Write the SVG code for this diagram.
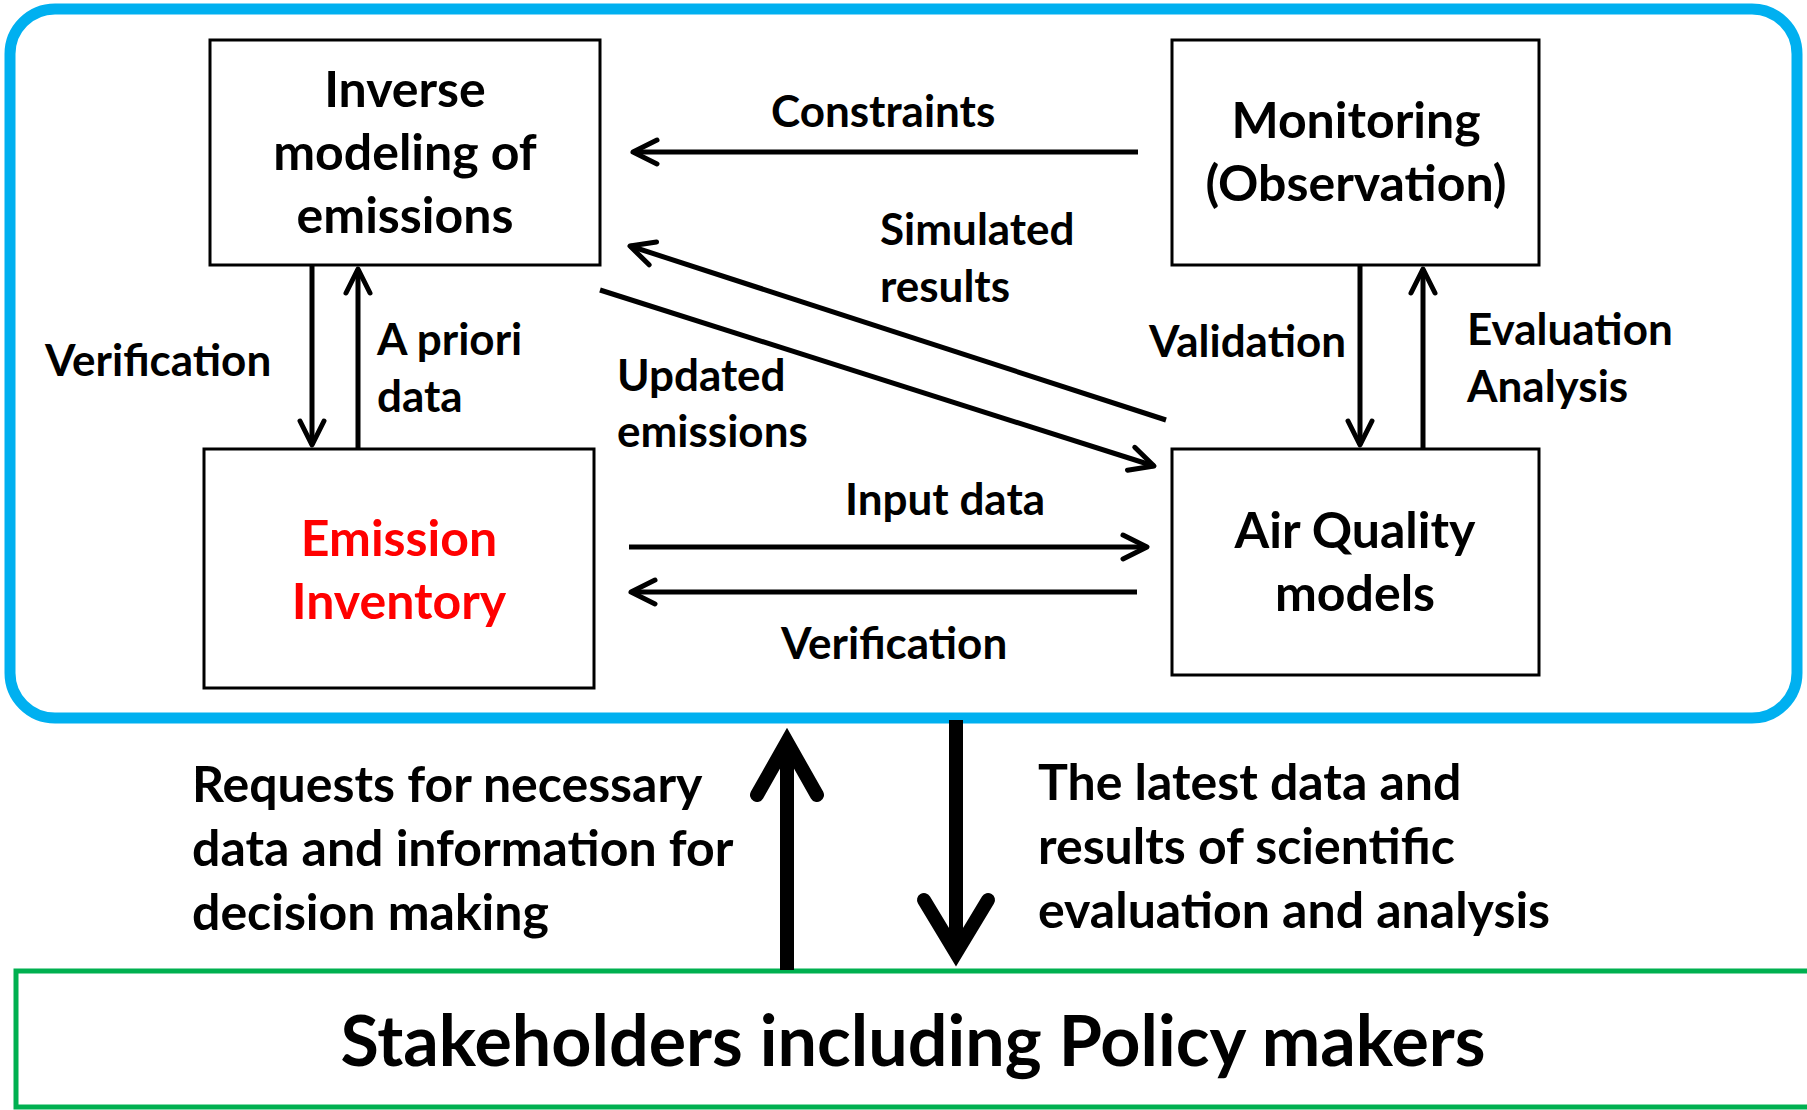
<svg xmlns="http://www.w3.org/2000/svg" width="1807" height="1110" viewBox="0 0 1807 1110">
<style>
  .box { fill: #FFFFFF; stroke: #000000; stroke-width: 3; }
  .t { font-family: Lato, "Open Sans", "Liberation Sans", sans-serif; font-weight: 700; fill: #000000; }
  .node { font-size: 50px; text-anchor: middle; }
  .red { fill: #FF0000; }
  .lab { font-size: 44px; }
  .big { font-size: 50px; }
  .con { fill: none; stroke: #000000; stroke-width: 5; }
  .thick { fill: none; stroke: #000000; stroke-width: 14; }
</style>
<defs>
  <marker id="arr" viewBox="-30 -16 36 32" markerWidth="36" markerHeight="32" refX="0" refY="0" orient="auto" markerUnits="userSpaceOnUse">
    <path d="M-24,-12 L0,0 L-24,12" fill="none" stroke="#000000" stroke-width="5" stroke-linecap="round" stroke-linejoin="round"/>
  </marker>
</defs>
<rect x="0" y="0" width="1807" height="1110" fill="#FFFFFF"/>
<g id="frame">
  <rect x="10" y="9" width="1787" height="709" rx="45" ry="45" fill="none" stroke="#00B0F0" stroke-width="11"/>
</g>
<g id="inverse">
  <rect class="box" x="210" y="40" width="390" height="225"/>
  <text class="t node" x="405" y="107">Inverse</text>
  <text class="t node" x="405" y="170">modeling of</text>
  <text class="t node" x="405" y="233">emissions</text>
</g>
<g id="monitoring">
  <rect class="box" x="1172" y="40" width="367" height="225"/>
  <text class="t node" x="1356" y="138">Monitoring</text>
  <text class="t node" x="1356" y="201">(Observation)</text>
</g>
<g id="emission">
  <rect class="box" x="204" y="449" width="390" height="239"/>
  <text class="t node red" x="399" y="556">Emission</text>
  <text class="t node red" x="399" y="619">Inventory</text>
</g>
<g id="airquality">
  <rect class="box" x="1172" y="449" width="367" height="226"/>
  <text class="t node" x="1355" y="548">Air Quality</text>
  <text class="t node" x="1355" y="611">models</text>
</g>
<g id="stakeholders">
  <rect x="16" y="971" width="1800" height="136" fill="none" stroke="#00B050" stroke-width="5"/>
  <text class="t" x="913" y="1066" font-size="70" text-anchor="middle">Stakeholders including Policy makers</text>
</g>
<g id="connectors">
  <path class="con" d="M1138,152 L633,152" marker-end="url(#arr)"/>
  <path class="con" d="M1166,420 L630,246" marker-end="url(#arr)"/>
  <path class="con" d="M600,290 L1154,466" marker-end="url(#arr)"/>
  <path class="con" d="M629,547 L1147,547" marker-end="url(#arr)"/>
  <path class="con" d="M1137,592 L631,592" marker-end="url(#arr)"/>
  <path class="con" d="M312,266 L312,445" marker-end="url(#arr)"/>
  <path class="con" d="M358,449 L358,269" marker-end="url(#arr)"/>
  <path class="con" d="M1360,266 L1360,445" marker-end="url(#arr)"/>
  <path class="con" d="M1423,449 L1423,269" marker-end="url(#arr)"/>
  <path class="thick" d="M787,970 L787,745"/>
  <path class="thick" d="M757,795 L787,742 L817,795" stroke-linecap="round" stroke-linejoin="miter" stroke-miterlimit="10"/>
  <path class="thick" d="M956,720 L956,950"/>
  <path class="thick" d="M924,900 L956,953 L988,900" stroke-linecap="round" stroke-linejoin="miter" stroke-miterlimit="10"/>
</g>
<g id="labels">
  <text class="t lab" x="771" y="127">Constraints</text>
  <text class="t lab" x="880" y="245">Simulated</text>
  <text class="t lab" x="880" y="302">results</text>
  <text class="t lab" x="45" y="376">Verification</text>
  <text class="t lab" x="377" y="355">A priori</text>
  <text class="t lab" x="377" y="412">data</text>
  <text class="t lab" x="617" y="391">Updated</text>
  <text class="t lab" x="617" y="447">emissions</text>
  <text class="t lab" x="1149" y="357">Validation</text>
  <text class="t lab" x="1467" y="345">Evaluation</text>
  <text class="t lab" x="1467" y="402">Analysis</text>
  <text class="t lab" x="845" y="515">Input data</text>
  <text class="t lab" x="781" y="659">Verification</text>
  <text class="t big" x="192" y="802">Requests for necessary</text>
  <text class="t big" x="192" y="866">data and information for</text>
  <text class="t big" x="192" y="930">decision making</text>
  <text class="t big" x="1038" y="800">The latest data and</text>
  <text class="t big" x="1038" y="864">results of scientific</text>
  <text class="t big" x="1038" y="928">evaluation and analysis</text>
</g>
</svg>
